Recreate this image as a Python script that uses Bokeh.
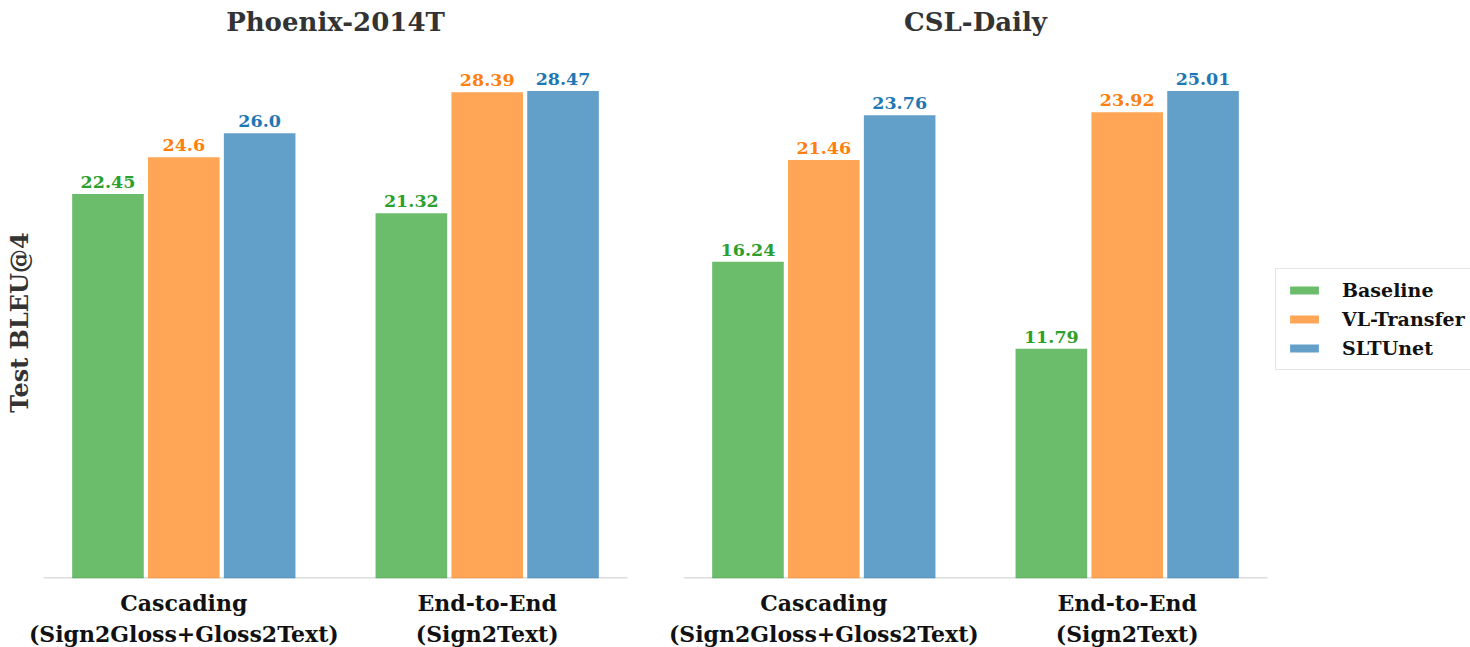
import math
from bokeh.plotting import figure
from bokeh.layouts import row
from bokeh.models import Range1d, FixedTicker, Legend, LegendItem, ColumnDataSource, Label
from bokeh.core.properties import value
from bokeh.embed import file_html
from bokeh.resources import INLINE

categories = ["Cascading\n(Sign2Gloss+Gloss2Text)", "End-to-End\n(Sign2Text)"]
methods = ["Baseline", "VL-Transfer", "SLTUnet"]
panel_titles = ["Phoenix-2014T", "CSL-Daily"]
y_title = "Test BLEU@4"

phoenix_baseline = [22.45, 21.32]
phoenix_vl = [24.6, 28.39]
phoenix_sltunet = [26.0, 28.47]

csl_baseline = [16.24, 11.79]
csl_vl = [21.46, 23.92]
csl_sltunet = [23.76, 25.01]

phoenix_labels = [["22.45", "21.32"], ["24.6", "28.39"], ["26.0", "28.47"]]
csl_labels = [["16.24", "11.79"], ["21.46", "23.92"], ["23.76", "25.01"]]

bar_colors = ["#2ca02c", "#ff7f0e", "#1f77b4"]
FONT = "DejaVu Serif"

XMIN, XMAX = -0.4625, 1.4625
DATA_W = 584      # width of the bar region in px
DATA_H = 512      # height of the bar region in px
TOP_PAD = 66      # space above the bar region (title area)
FRAME_H = DATA_H + TOP_PAD


def make_panel(title, series, labels, left_pad, left_border, frame_w, with_ylabel, with_legend):
    ymax = max(max(s) for s in series)
    ytop = ymax * 1.05
    ppu = DATA_W / (XMAX - XMIN)
    x_start = XMIN - left_pad / ppu
    x_end = x_start + frame_w / ppu
    y_end = ytop * FRAME_H / DATA_H
    p = figure(frame_width=frame_w, frame_height=FRAME_H, title=None,
               x_range=Range1d(x_start, x_end), y_range=Range1d(0, y_end),
               output_backend="svg", toolbar_location=None,
               min_border_left=left_border, min_border_right=0,
               min_border_top=0, min_border_bottom=69)
    p.outline_line_color = None
    p.xgrid.visible = False
    p.ygrid.visible = False
    p.yaxis.visible = False

    p.add_layout(Label(x=left_pad + DATA_W / 2, y=FRAME_H - 21, x_units="screen", y_units="screen",
                       text=title, text_align="center", text_baseline="middle",
                       text_font=FONT, text_font_style="bold", text_font_size="26px",
                       text_color="#333333"))

    xa = p.xaxis[0]
    xa.ticker = FixedTicker(ticks=[0, 1])
    xa.major_label_overrides = {0: categories[0], 1: categories[1]}
    xa.major_tick_line_color = None
    xa.minor_tick_line_color = None
    xa.axis_line_color = None
    xa.major_label_text_font = FONT
    xa.major_label_text_font_style = "bold"
    xa.major_label_text_font_size = "22px"
    xa.major_label_text_color = "#111111"
    xa.major_label_text_line_height = 1.2
    xa.major_label_standoff = 5

    p.segment(x0=[XMIN], x1=[XMAX], y0=[0], y1=[0], line_color="#dddddd", line_width=3)

    if with_ylabel:
        p.add_layout(Label(x=19, y=DATA_H / 2, x_units="screen", y_units="screen",
                           text=y_title, angle=math.pi / 2, text_align="center",
                           text_baseline="middle", text_font=FONT, text_font_style="bold",
                           text_font_size="24px", text_color="#333333"))

    items = []
    for i, (vals, labs) in enumerate(zip(series, labels)):
        xs = [g + (i - 1) * 0.25 for g in range(len(vals))]
        src = ColumnDataSource(dict(x=xs, top=vals, lab=labs))
        r = p.vbar(x="x", top="top", width=0.236, source=src,
                   fill_color=bar_colors[i], fill_alpha=0.7, line_color=None)
        p.text(x="x", y="top", text="lab", source=src, y_offset=-6,
               text_align="center", text_baseline="bottom",
               text_font=value(FONT), text_font_style="bold",
               text_font_size="17.5px", text_color=bar_colors[i])
        items.append(LegendItem(label=methods[i], renderers=[r]))

    if with_legend:
        lg = Legend(items=items, location=(left_pad + DATA_W + 8, 208))
        lg.margin = 0
        lg.padding = 10
        lg.spacing = 7
        lg.label_standoff = 20
        lg.glyph_width = 36
        lg.glyph_height = 10
        lg.label_height = 20
        lg.label_text_line_height = 1.0
        lg.label_text_font = FONT
        lg.label_text_font_style = "bold"
        lg.label_text_font_size = "19px"
        lg.label_text_color = "#111111"
        lg.border_line_color = "#cccccc"
        lg.border_line_width = 1.5
        lg.background_fill_color = "white"
        p.add_layout(lg)
    return p


p1 = make_panel(panel_titles[0], [phoenix_baseline, phoenix_vl, phoenix_sltunet], phoenix_labels,
                43, 0, 43 + DATA_W + 28, True, False)
p2 = make_panel(panel_titles[1], [csl_baseline, csl_vl, csl_sltunet], csl_labels,
                0, 28, 787, False, True)

layout = row(p1, p2)
open("out.html", "w").write(file_html(layout, INLINE))
